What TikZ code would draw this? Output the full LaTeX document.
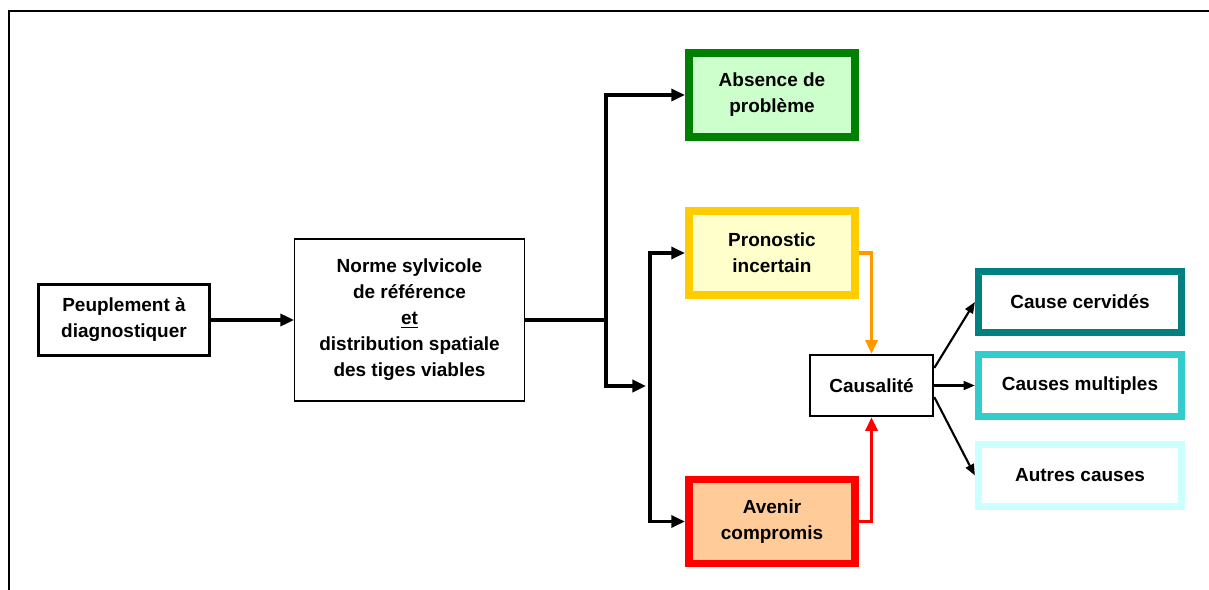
\documentclass[tikz,border=0pt]{standalone}
\usepackage{fontspec}
\setmainfont{Liberation Sans}
\usetikzlibrary{arrows.meta}
\definecolor{vert}{RGB}{0,128,0}
\definecolor{vertclair}{RGB}{204,255,204}
\definecolor{jaune}{RGB}{255,204,0}
\definecolor{jauneclair}{RGB}{255,255,204}
\definecolor{saumon}{RGB}{255,204,153}
\definecolor{orangef}{RGB}{255,153,0}
\definecolor{sarcelle}{RGB}{0,128,128}
\definecolor{turquoise}{RGB}{51,204,204}
\definecolor{cyanclair}{RGB}{204,255,255}

\begin{document}
\begin{tikzpicture}[x=0.025cm, y=-0.025cm, >={Triangle[length=3.4mm, width=3mm]},
  main/.style = {draw, fill=white, align=center, font=\fontsize{13.5}{18.5}\selectfont\bfseries, inner sep=2pt},
  col/.style = {main, line width=5.5pt, minimum width=4.16cm, minimum height=2.1cm},
  cause/.style = {main, line width=5pt, minimum width=5.08cm, minimum height=1.53cm},
  link/.style = {line width=2.4pt},
  small/.style = {line width=1.5pt, -{Triangle[length=2.8mm, width=2.2mm]}}]
\useasboundingbox (0,0) rectangle (1209,590);
\draw[line width=2pt] (1209,11) -- (9,11) -- (9,590);

\node[main, line width=2.1pt, minimum width=4.275cm, minimum height=1.775cm] (1) at (124,320) {Peuplement à\\diagnostiquer};
\node[main, line width=1pt, minimum width=5.74cm, minimum height=4.04cm] (2) at (409.5,320) {Norme sylvicole\\de référence\\\underline{et}\\distribution spatiale\\des tiges viables};
\node[col, draw=vert, fill=vertclair] (3) at (772,95) {Absence de\\problème};
\node[col, draw=jaune, fill=jauneclair] (4) at (772,253) {Pronostic\\incertain};
\node[col, draw=red, fill=saumon] (5) at (772,521.5) {Avenir\\compromis};
\node[main, line width=1.4pt, minimum width=3.09cm, minimum height=1.54cm] (6) at (871.5,385.5) {Causalité};
\node[cause, draw=sarcelle] (7) at (1080,302) {Cause cervidés};
\node[cause, draw=turquoise] (8) at (1080,385.5) {Causes multiples};
\node[cause, draw=cyanclair] (9) at (1080,475.5) {Autres causes};

\coordinate (j1) at (606,320);
\coordinate (j2) at (646,386);
\coordinate (j3) at (650,386);

\draw[->, link] (1) -- (2);
\draw[->, link] (2.east) -- (j1) |- (3.west);
\draw[->, link] (j1) |- (j2);
\draw[->, link] (j3) |- (4.west);
\draw[->, link] (j3) |- (5.west);
\draw[->, link, line width=2.8pt, orangef] (4.east) -| (6.north);
\draw[->, link, line width=2.8pt, red] (5.east) -| (6.south);
\draw[small] ([yshift=0.44cm]6.east) -- (7.west);
\draw[small] (6.east) -- (8.west);
\draw[small] ([yshift=-0.29cm]6.east) -- (9.west);
\end{tikzpicture}
\end{document}
